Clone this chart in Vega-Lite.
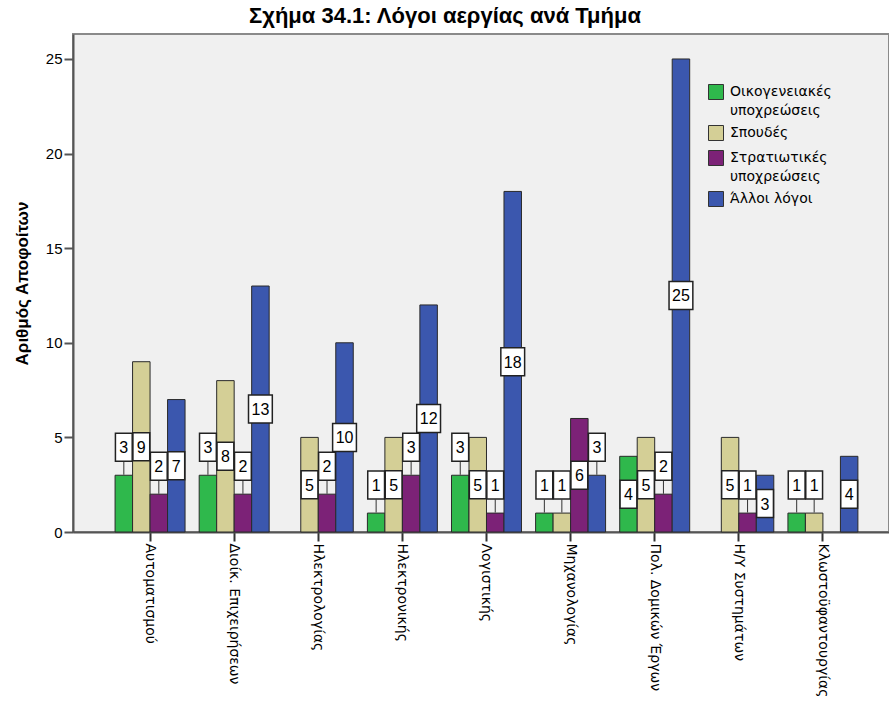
{
  "$schema": "https://vega.github.io/schema/vega-lite/v6.json",
  "width": 816,
  "height": 498,
  "autosize": {"type": "none"},
  "padding": {"left": 73, "top": 34, "right": 0, "bottom": 174},
  "background": "white",
  "title": {
    "text": "Σχήμα 34.1: Λόγοι αεργίας ανά Τμήμα",
    "font": "Liberation Sans",
    "fontSize": 22,
    "fontWeight": "bold",
    "color": "black",
    "anchor": "middle",
    "dx": -36,
    "offset": 6
  },
  "config": {
    "view": {"fill": "#f0f0f0", "stroke": "#8a8a8a", "strokeWidth": 2},
    "style": {"guide-label": {"lineHeight": 19}}
  },
  "data": {
    "values": [
      {"dept": "Αυτοματισμού", "reason": "Οικογενειακές υποχρεώσεις", "value": 3},
      {"dept": "Αυτοματισμού", "reason": "Σπουδές", "value": 9},
      {"dept": "Αυτοματισμού", "reason": "Στρατιωτικές υποχρεώσεις", "value": 2},
      {"dept": "Αυτοματισμού", "reason": "Άλλοι λόγοι", "value": 7},
      {"dept": "Διοίκ. Επιχειρήσεων", "reason": "Οικογενειακές υποχρεώσεις", "value": 3},
      {"dept": "Διοίκ. Επιχειρήσεων", "reason": "Σπουδές", "value": 8},
      {"dept": "Διοίκ. Επιχειρήσεων", "reason": "Στρατιωτικές υποχρεώσεις", "value": 2},
      {"dept": "Διοίκ. Επιχειρήσεων", "reason": "Άλλοι λόγοι", "value": 13},
      {"dept": "Ηλεκτρολογίας", "reason": "Σπουδές", "value": 5},
      {"dept": "Ηλεκτρολογίας", "reason": "Στρατιωτικές υποχρεώσεις", "value": 2},
      {"dept": "Ηλεκτρολογίας", "reason": "Άλλοι λόγοι", "value": 10},
      {"dept": "Ηλεκτρονικής", "reason": "Οικογενειακές υποχρεώσεις", "value": 1},
      {"dept": "Ηλεκτρονικής", "reason": "Σπουδές", "value": 5},
      {"dept": "Ηλεκτρονικής", "reason": "Στρατιωτικές υποχρεώσεις", "value": 3},
      {"dept": "Ηλεκτρονικής", "reason": "Άλλοι λόγοι", "value": 12},
      {"dept": "Λογιστικής", "reason": "Οικογενειακές υποχρεώσεις", "value": 3},
      {"dept": "Λογιστικής", "reason": "Σπουδές", "value": 5},
      {"dept": "Λογιστικής", "reason": "Στρατιωτικές υποχρεώσεις", "value": 1},
      {"dept": "Λογιστικής", "reason": "Άλλοι λόγοι", "value": 18},
      {"dept": "Μηχανολογίας", "reason": "Οικογενειακές υποχρεώσεις", "value": 1},
      {"dept": "Μηχανολογίας", "reason": "Σπουδές", "value": 1},
      {"dept": "Μηχανολογίας", "reason": "Στρατιωτικές υποχρεώσεις", "value": 6},
      {"dept": "Μηχανολογίας", "reason": "Άλλοι λόγοι", "value": 3},
      {"dept": "Πολ. Δομικών Έργων", "reason": "Οικογενειακές υποχρεώσεις", "value": 4},
      {"dept": "Πολ. Δομικών Έργων", "reason": "Σπουδές", "value": 5},
      {"dept": "Πολ. Δομικών Έργων", "reason": "Στρατιωτικές υποχρεώσεις", "value": 2},
      {"dept": "Πολ. Δομικών Έργων", "reason": "Άλλοι λόγοι", "value": 25},
      {"dept": "Η/Υ Συστημάτων", "reason": "Σπουδές", "value": 5},
      {"dept": "Η/Υ Συστημάτων", "reason": "Στρατιωτικές υποχρεώσεις", "value": 1},
      {"dept": "Η/Υ Συστημάτων", "reason": "Άλλοι λόγοι", "value": 3},
      {"dept": "Κλωστοϋφαντουργίας", "reason": "Οικογενειακές υποχρεώσεις", "value": 1},
      {"dept": "Κλωστοϋφαντουργίας", "reason": "Σπουδές", "value": 1},
      {"dept": "Κλωστοϋφαντουργίας", "reason": "Άλλοι λόγοι", "value": 4}
    ]
  },
  "encoding": {
    "x": {
      "field": "dept",
      "type": "nominal",
      "sort": ["Αυτοματισμού", "Διοίκ. Επιχειρήσεων", "Ηλεκτρολογίας", "Ηλεκτρονικής", "Λογιστικής", "Μηχανολογίας", "Πολ. Δομικών Έργων", "Η/Υ Συστημάτων", "Κλωστοϋφαντουργίας"],
      "scale": {"paddingInner": 0.168, "paddingOuter": 0.435, "align": 0.575},
      "axis": {
        "title": null,
        "labelAngle": 90,
        "labelAlign": "left",
        "labelBaseline": "middle",
        "labelFont": "DejaVu Sans",
        "labelFontSize": 14,
        "labelColor": "black",
        "labelPadding": 2,
        "labelLimit": 0,
        "tickSize": 9,
        "tickWidth": 2,
        "tickColor": "#333333",
        "domainColor": "#555555",
        "domainWidth": 2
      }
    },
    "xOffset": {
      "field": "reason",
      "type": "nominal",
      "scale": {
        "domain": ["Οικογενειακές υποχρεώσεις", "Σπουδές", "Στρατιωτικές υποχρεώσεις", "Άλλοι λόγοι"],
        "paddingInner": 0,
        "paddingOuter": 0
      }
    }
  },
  "layer": [
    {
      "mark": {"type": "bar", "stroke": "#2a2a2a", "strokeWidth": 1},
      "encoding": {
        "y": {
          "field": "value",
          "type": "quantitative",
          "scale": {"domain": [0, 26.32], "nice": false, "zero": true},
          "axis": {
            "title": "Αριθμός Αποφοίτων",
            "titleFont": "Liberation Sans",
            "titleFontSize": 17,
            "titleFontWeight": "bold",
            "titleColor": "black",
            "titlePadding": 14,
            "values": [0, 5, 10, 15, 20, 25],
            "grid": false,
            "labelFont": "Liberation Sans",
            "labelFontSize": 15,
            "labelColor": "black",
            "labelPadding": 2,
            "tickSize": 9,
            "tickWidth": 2,
            "tickColor": "#555555",
            "domainColor": "#555555",
            "domainWidth": 2
          }
        },
        "color": {
          "field": "reason",
          "type": "nominal",
          "scale": {
            "domain": ["Οικογενειακές υποχρεώσεις", "Σπουδές", "Στρατιωτικές υποχρεώσεις", "Άλλοι λόγοι"],
            "range": ["#2fb84c", "#d4cf96", "#7c2277", "#3b57ae"]
          },
          "legend": {
            "title": null,
            "orient": "none",
            "legendX": 635,
            "legendY": 50,
            "padding": 0,
            "labelFont": "DejaVu Sans",
            "labelFontSize": 14,
            "labelColor": "black",
            "labelExpr": "indexof(datum.label, 'υποχρεώσεις') > 0 ? split(datum.label, ' ') : datum.label",
            "labelOffset": 6,
            "symbolType": "square",
            "symbolSize": 225,
            "symbolStrokeColor": "#333333",
            "symbolStrokeWidth": 1,
            "symbolOpacity": 1,
            "rowPadding": 5
          }
        }
      }
    },
    {
      "transform": [{"filter": "datum.value < 4 && !(datum.dept == 'Η/Υ Συστημάτων' && datum.reason == 'Άλλοι λόγοι')"}],
      "mark": {"type": "tick", "orient": "vertical", "size": 13, "thickness": 1, "color": "#333333", "opacity": 1, "yOffset": -7},
      "encoding": {"y": {"field": "value", "type": "quantitative"}}
    },
    {
      "transform": [{"filter": "datum.value < 4 && !(datum.dept == 'Η/Υ Συστημάτων' && datum.reason == 'Άλλοι λόγοι')"}],
      "mark": {"type": "point", "shape": "M-0.6,-1H0.6V1H-0.6Z", "filled": true, "fill": "white", "stroke": "#222222", "strokeWidth": 1.5, "size": 784, "opacity": 1, "yOffset": -28},
      "encoding": {"y": {"field": "value", "type": "quantitative"}}
    },
    {
      "transform": [{"filter": "datum.value < 4 && !(datum.dept == 'Η/Υ Συστημάτων' && datum.reason == 'Άλλοι λόγοι')"}],
      "mark": {"type": "text", "font": "Liberation Sans", "fontSize": 16, "color": "black", "baseline": "middle", "yOffset": -27},
      "encoding": {"y": {"field": "value", "type": "quantitative"}, "text": {"field": "value", "type": "quantitative"}}
    },
    {
      "transform": [
        {"filter": "datum.value >= 4 || (datum.dept == 'Η/Υ Συστημάτων' && datum.reason == 'Άλλοι λόγοι')"},
        {"calculate": "datum.value / 2", "as": "mid"}
      ],
      "mark": {"type": "point", "filled": true, "fill": "white", "stroke": "#222222", "strokeWidth": 1.5, "size": 784, "opacity": 1},
      "encoding": {
        "y": {"field": "mid", "type": "quantitative"},
        "shape": {"condition": {"test": "datum.value >= 10", "value": "M-0.85,-1H0.85V1H-0.85Z"}, "value": "M-0.6,-1H0.6V1H-0.6Z"}
      }
    },
    {
      "transform": [
        {"filter": "datum.value >= 4 || (datum.dept == 'Η/Υ Συστημάτων' && datum.reason == 'Άλλοι λόγοι')"},
        {"calculate": "datum.value / 2", "as": "mid"}
      ],
      "mark": {"type": "text", "font": "Liberation Sans", "fontSize": 16, "color": "black", "baseline": "middle", "yOffset": 1},
      "encoding": {"y": {"field": "mid", "type": "quantitative"}, "text": {"field": "value", "type": "quantitative"}}
    }
  ]
}
